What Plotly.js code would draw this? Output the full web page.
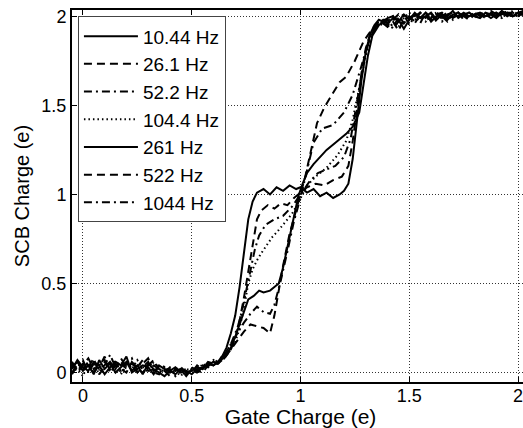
<!DOCTYPE html>
<html>
<head>
<meta charset="utf-8">
<script src="https://cdn.plot.ly/plotly-3.0.1.min.js"></script>
<style>
html,body{margin:0;padding:0;overflow:hidden;background:#fff;}
#chart{width:530px;height:428px;}
</style>
</head>
<body>
<div id="chart"></div>
<script>
// ---------- DATA ----------
var seriesNames = ["10.44 Hz","26.1 Hz","52.2 Hz","104.4 Hz","261 Hz","522 Hz","1044 Hz"];
var xTickVals = [0,0.5,1,1.5,2];
var xTickText = ["0","0.5","1","1.5","2"];
var yTickVals = [0,0.5,1,1.5,2];
var yTickText = ["0","0.5","1","1.5","2"];

// shared gate-charge samples on the flat parts
var lowX = [-0.05,-0.025,0,0.025,0.05,0.075,0.1,0.125,0.15,0.175,0.2,0.225,0.25,0.275,0.3,0.325,0.35,0.375,0.4,0.425,0.45,0.475,0.5,0.525,0.55,0.575,0.6];
var highX = [1.4,1.425,1.45,1.475,1.5,1.525,1.55,1.575,1.6,1.625,1.65,1.675,1.7,1.725,1.75,1.775,1.8,1.825,1.85,1.875,1.9,1.925,1.95,1.975,2.0,2.025,2.05];

// 10.44 Hz
var low1  = [0.03,0.06,0.01,0.04,-0.01,0.07,0.02,0.05,0.0,0.03,0.06,0.01,0.04,-0.01,0.05,0.02,0.0,-0.02,0.01,-0.01,0.02,0.0,0.01,0.03,0.02,0.05,0.04];
var midX1 = [0.62,0.64,0.66,0.68,0.70,0.72,0.74,0.76,0.78,0.80,0.83,0.86,0.89,0.92,0.95,0.98,1.0,1.03,1.06,1.09,1.12,1.15,1.18,1.2,1.22,1.24,1.26,1.28,1.30,1.32,1.34,1.36,1.38];
var midY1 = [0.06,0.09,0.14,0.22,0.32,0.48,0.68,0.86,0.96,1.01,1.03,1.0,1.04,1.02,1.05,1.03,1.04,1.01,1.03,0.99,1.01,0.98,1.0,1.02,1.06,1.2,1.42,1.64,1.8,1.9,1.95,1.98,1.97];
var high1 = [1.99,2.0,1.97,2.01,1.98,2.02,1.99,2.0,2.02,1.98,2.01,2.0,2.03,1.99,2.01,2.02,2.0,1.99,2.02,2.01,2.0,2.03,2.01,2.0,2.02,2.01,2.02];

// 26.1 Hz
var low2  = [0.05,0.0,0.04,0.08,0.02,0.03,0.09,0.01,0.05,0.02,0.0,0.06,0.03,0.07,0.01,0.04,0.02,0.01,-0.02,0.02,0.0,-0.01,0.03,0.01,0.04,0.03,0.06];
var midX2 = [0.62,0.65,0.68,0.70,0.72,0.74,0.755,0.77,0.785,0.80,0.82,0.85,0.88,0.91,0.94,0.97,1.0,1.03,1.07,1.11,1.15,1.19,1.22,1.24,1.26,1.28,1.30,1.32,1.34,1.36,1.38];
var midY2 = [0.05,0.08,0.13,0.19,0.29,0.42,0.53,0.65,0.76,0.86,0.91,0.94,0.92,0.95,0.94,0.98,1.01,1.04,1.06,1.05,1.08,1.1,1.16,1.3,1.48,1.68,1.82,1.9,1.94,1.97,1.96];
var high2 = [1.95,1.98,2.01,1.96,2.0,1.97,2.02,2.0,1.98,2.01,2.02,1.99,2.0,2.02,1.98,2.0,2.02,2.01,1.99,2.02,2.0,2.01,2.03,2.0,2.01,2.02,2.0];

// 52.2 Hz
var low3  = [-0.01,0.04,0.07,0.0,0.05,0.02,0.04,0.1,0.03,0.06,0.02,0.04,0.0,0.05,0.08,0.01,0.03,0.0,0.02,-0.02,0.01,0.02,0.0,0.04,0.02,0.06,0.05];
var midX3 = [0.62,0.65,0.68,0.71,0.73,0.75,0.77,0.79,0.81,0.84,0.88,0.92,0.96,1.0,1.04,1.08,1.12,1.16,1.2,1.23,1.25,1.27,1.29,1.31,1.33,1.36,1.38];
var midY3 = [0.07,0.1,0.16,0.25,0.34,0.46,0.58,0.69,0.77,0.83,0.86,0.88,0.93,1.0,1.07,1.12,1.14,1.16,1.21,1.31,1.45,1.6,1.74,1.84,1.91,1.96,1.95];
var high3 = [1.98,1.93,1.97,2.0,1.99,2.01,1.96,2.02,2.0,1.99,1.97,2.01,2.02,2.0,2.01,1.99,2.02,2.0,2.01,2.03,2.01,1.99,2.02,2.02,2.0,2.01,2.03];

// 104.4 Hz
var low4  = [0.04,0.02,-0.02,0.05,0.03,0.0,0.06,0.02,0.07,-0.01,0.04,0.02,0.07,0.03,0.0,0.06,0.01,0.03,0.0,0.01,-0.02,0.02,0.01,0.0,0.05,0.03,0.07];
var midX4 = [0.62,0.65,0.68,0.70,0.72,0.74,0.76,0.78,0.80,0.82,0.85,0.87,0.9,0.92,0.94,0.96,0.98,1.0,1.03,1.07,1.12,1.17,1.21,1.24,1.27,1.3,1.33,1.36,1.38];
var midY4 = [0.06,0.09,0.13,0.17,0.25,0.36,0.5,0.58,0.63,0.67,0.72,0.76,0.8,0.83,0.86,0.89,0.93,0.98,1.05,1.1,1.15,1.22,1.3,1.42,1.6,1.78,1.9,1.96,1.97];
var high4 = [1.97,2.0,1.94,1.99,2.02,1.98,2.0,1.97,2.01,2.02,1.99,2.01,1.98,2.02,2.0,2.02,1.99,2.01,2.0,2.02,2.02,2.0,2.01,2.03,2.01,2.0,2.02];

// 261 Hz
var low5  = [0.02,0.07,0.03,0.01,0.06,0.04,-0.01,0.03,0.06,0.04,0.09,0.0,0.02,0.04,0.03,-0.01,0.04,0.02,0.01,0.03,0.0,0.01,-0.01,0.02,0.03,0.04,0.06];
var midX5 = [0.62,0.65,0.68,0.70,0.72,0.74,0.76,0.785,0.81,0.83,0.86,0.88,0.90,0.92,0.945,0.968,0.99,1.01,1.03,1.06,1.09,1.12,1.17,1.21,1.24,1.27,1.29,1.31,1.33,1.36,1.38];
var midY5 = [0.05,0.09,0.14,0.2,0.27,0.35,0.41,0.43,0.46,0.45,0.46,0.48,0.5,0.59,0.74,0.87,0.99,1.06,1.12,1.17,1.21,1.25,1.30,1.34,1.38,1.46,1.62,1.78,1.89,1.95,1.97];
var high5 = [1.96,1.99,1.98,1.93,1.98,2.01,1.99,2.02,1.97,2.0,2.01,1.98,2.01,2.0,2.02,2.0,2.01,2.02,2.0,2.01,1.99,2.02,2.01,2.0,2.02,2.03,2.01];

// 522 Hz
var low6  = [0.06,0.01,0.05,0.03,0.08,-0.01,0.03,0.06,0.02,0.08,0.03,0.05,0.02,0.0,0.04,0.07,0.02,0.0,0.03,0.01,0.02,-0.02,0.02,0.01,0.0,0.04,0.05];
var midX6 = [0.62,0.65,0.68,0.71,0.74,0.77,0.80,0.83,0.86,0.88,0.90,0.92,0.95,0.98,1.0,1.02,1.04,1.076,1.11,1.15,1.18,1.21,1.25,1.29,1.33,1.36,1.38];
var midY6 = [0.05,0.08,0.13,0.18,0.23,0.27,0.26,0.25,0.22,0.32,0.46,0.6,0.78,0.92,1.0,1.09,1.2,1.4,1.49,1.57,1.63,1.66,1.75,1.86,1.93,1.97,1.96];
var high6 = [1.94,1.97,1.92,1.98,2.0,1.96,2.01,1.99,2.02,1.97,2.0,2.02,1.99,2.01,2.0,1.98,2.01,2.02,2.0,2.01,2.02,2.0,2.02,2.01,2.0,2.02,2.01];

// 1044 Hz
var low7  = [0.0,0.05,0.02,0.06,0.0,0.04,0.07,0.0,0.04,0.01,0.05,0.08,0.01,0.03,0.06,0.0,-0.01,0.04,0.0,0.02,0.03,0.0,0.02,0.0,0.03,0.05,0.04];
var midX7 = [0.62,0.65,0.68,0.71,0.74,0.77,0.80,0.83,0.86,0.88,0.91,0.94,0.97,1.0,1.03,1.06,1.1,1.15,1.2,1.24,1.28,1.31,1.34,1.36,1.38];
var midY7 = [0.06,0.1,0.16,0.22,0.28,0.33,0.37,0.34,0.33,0.38,0.52,0.68,0.85,0.98,1.14,1.29,1.37,1.39,1.46,1.56,1.72,1.85,1.93,1.96,1.98];
var high7 = [1.98,1.94,1.99,2.01,1.95,2.0,2.02,1.98,1.99,2.02,2.0,1.97,2.01,2.02,2.0,2.01,2.0,2.02,2.01,1.99,2.01,2.02,2.0,2.02,2.01,2.03,2.0];

// ---------- BUILD ----------
var lows  = [low1,low2,low3,low4,low5,low6,low7];
var midXs = [midX1,midX2,midX3,midX4,midX5,midX6,midX7];
var midYs = [midY1,midY2,midY3,midY4,midY5,midY6,midY7];
var highs = [high1,high2,high3,high4,high5,high6,high7];
var dashes = ["solid","8px,5px","8px,4px,2px,4px","1.5px,3px","solid","8px,5px","8px,4px,2px,4px"];

var traces = seriesNames.map(function(name,i){
  return {
    type:"scatter", mode:"lines", name:name,
    x: lowX.concat(midXs[i], highX),
    y: lows[i].concat(midYs[i], highs[i]),
    line:{color:"#000", width:2, dash:dashes[i]}
  };
});

var fontFam = "Liberation Sans, Arial, sans-serif";
var layout = {
  width:530, height:428,
  margin:{l:72, r:1, t:10, b:46},
  paper_bgcolor:"#fff", plot_bgcolor:"#fff",
  font:{family:fontFam, color:"#000", size:18},
  showlegend:true,
  legend:{
    x:0.013, y:0.983, xanchor:"left", yanchor:"top",
    bgcolor:"#fff", bordercolor:"#444", borderwidth:1,
    font:{family:fontFam, size:19, color:"#000"},
    traceorder:"normal", itemwidth:54
  },
  xaxis:{
    range:[-0.05,2.05], tickvals:xTickVals, ticktext:xTickText,
    ticks:"inside", ticklen:5, tickwidth:1, tickcolor:"#000",
    showline:true, linewidth:2, linecolor:"#000", mirror:"ticks",
    showgrid:true, gridcolor:"#333", gridwidth:1, griddash:"1px,2px",
    zeroline:false, tickfont:{size:18}, ticklabelstandoff:-4,
    title:{text:"Gate Charge (e)", font:{size:21}, standoff:0}
  },
  yaxis:{
    range:[-0.053,2.035], tickvals:yTickVals, ticktext:yTickText,
    ticks:"inside", ticklen:5, tickwidth:1, tickcolor:"#000",
    showline:true, linewidth:2, linecolor:"#000", mirror:"ticks",
    showgrid:true, gridcolor:"#333", gridwidth:1, griddash:"1px,2px",
    zeroline:false, tickfont:{size:18},
    title:{text:"SCB Charge (e)", font:{size:20}, standoff:6}
  }
};

Plotly.newPlot("chart", traces, layout, {displayModeBar:false, staticPlot:true});
</script>
</body>
</html>
